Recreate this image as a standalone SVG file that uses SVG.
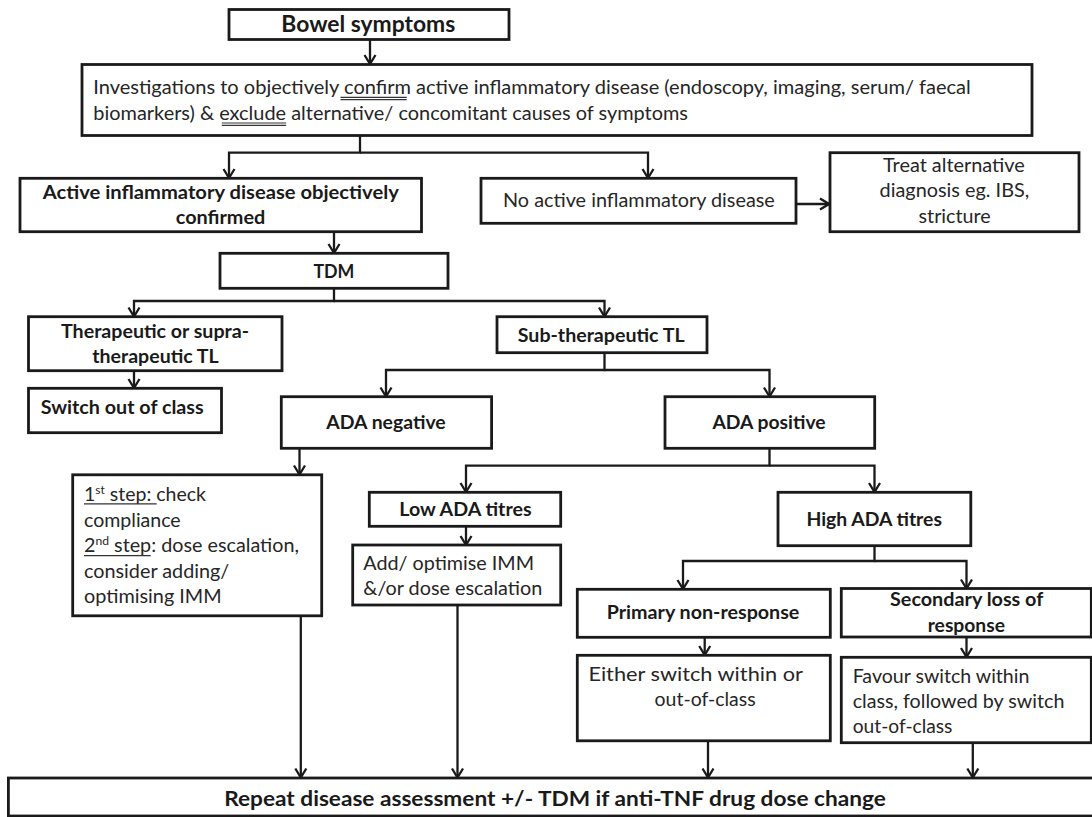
<svg xmlns="http://www.w3.org/2000/svg" width="1092" height="817" viewBox="0 0 1092 817">
<style>
.box{fill:#fff;stroke:#1a1a1a;stroke-width:2.8}
.c{fill:none;stroke:#1a1a1a;stroke-width:2.3;marker-end:url(#arr)}
.t{font-family:Lato,"Liberation Sans",Arial,sans-serif;font-size:19.5px;fill:#262626}
.b{font-weight:bold;fill:#1a1a1a}
.u{stroke:#333;stroke-width:1.2}
</style>
<defs>
<marker id="arr" viewBox="-12 -8 14 16" refX="0" refY="0" markerWidth="14" markerHeight="16" orient="auto" markerUnits="userSpaceOnUse">
<path d="M-9,-5.5 L0,0 L-9,5.5" fill="none" stroke="#1a1a1a" stroke-width="2.3"/>
</marker>
</defs>

<g id="connectors">
<path class="c" d="M370,40 V64"/>
<path class="c" d="M360,136 V152.7 H229 V178"/>
<path class="c" d="M360,152.7 H648 V178"/>
<path class="c" d="M796,204 H829"/>
<path class="c" d="M334,232 V253"/>
<path class="c" d="M334,289 V301 H134 V316.5"/>
<path class="c" d="M334,301 H604.5 V316.5"/>
<path class="c" d="M134,371 V388"/>
<path class="c" d="M604.5,353 V370 H386 V396.5"/>
<path class="c" d="M604.5,370 H769.5 V396.5"/>
<path class="c" d="M299.5,448.5 V474.5"/>
<path class="c" d="M769.5,448.5 V465.7 H466 V492"/>
<path class="c" d="M769.5,465.7 H874.5 V492"/>
<path class="c" d="M466,526.5 V545"/>
<path class="c" d="M874.5,546 V561 H683 V589"/>
<path class="c" d="M874.5,561 H966.5 V588.5"/>
<path class="c" d="M704.7,637.5 V655"/>
<path class="c" d="M966.5,637 V657"/>
<path class="c" d="M300.8,616 V777.5"/>
<path class="c" d="M457.5,605.5 V777.5"/>
<path class="c" d="M708,741 V777.5"/>
<path class="c" d="M972.8,743 V777.5"/>
</g>

<g id="bowel">
<rect class="box" x="229" y="9.5" width="280" height="30"/>
<text class="t b" x="281.3" y="31.7" style="font-size:22px" textLength="174" lengthAdjust="spacingAndGlyphs">Bowel symptoms</text>
</g>

<g id="investigations">
<rect class="box" x="82" y="64.5" width="950" height="71"/>
<text class="t" x="93.3" y="94.3" textLength="877.5" lengthAdjust="spacingAndGlyphs">Investigations to objectively confirm active inflammatory disease (endoscopy, imaging, serum/ faecal</text>
<text class="t" x="93.3" y="120" textLength="594.7" lengthAdjust="spacingAndGlyphs">biomarkers) &amp; exclude alternative/ concomitant causes of symptoms</text>
<line class="u" x1="340.5" y1="97.3" x2="406.7" y2="97.3"/>
<line class="u" x1="340.5" y1="99.6" x2="406.7" y2="99.6"/>
<line class="u" x1="221.8" y1="123" x2="286.2" y2="123"/>
<line class="u" x1="221.8" y1="125.3" x2="286.2" y2="125.3"/>
</g>

<g id="active">
<rect class="box" x="20" y="178.3" width="401.5" height="53.4"/>
<text class="t b" x="42.8" y="199" textLength="356" lengthAdjust="spacingAndGlyphs">Active inflammatory disease objectively</text>
<text class="t b" x="175.8" y="224" textLength="89.5" lengthAdjust="spacingAndGlyphs">confirmed</text>
</g>

<g id="noactive">
<rect class="box" x="481" y="178.3" width="315" height="45"/>
<text class="t" x="503" y="207.3" textLength="271.8" lengthAdjust="spacingAndGlyphs">No active inflammatory disease</text>
</g>

<g id="treat">
<rect class="box" x="830" y="152.7" width="249" height="79"/>
<text class="t" x="883" y="171.7" textLength="141.8" lengthAdjust="spacingAndGlyphs">Treat alternative</text>
<text class="t" x="879.6" y="197.3" textLength="149.7" lengthAdjust="spacingAndGlyphs">diagnosis eg. IBS,</text>
<text class="t" x="918.6" y="222.7" textLength="72" lengthAdjust="spacingAndGlyphs">stricture</text>
</g>

<g id="tdm">
<rect class="box" x="220" y="253.3" width="228" height="35"/>
<text class="t b" x="313.4" y="278.3" textLength="41" lengthAdjust="spacingAndGlyphs">TDM</text>
</g>

<g id="therapeutic">
<rect class="box" x="28.5" y="316.7" width="253.5" height="54"/>
<text class="t b" x="61" y="338.3" textLength="188" lengthAdjust="spacingAndGlyphs">Therapeutic or supra-</text>
<text class="t b" x="92.3" y="363.3" textLength="126.4" lengthAdjust="spacingAndGlyphs">therapeutic TL</text>
</g>

<g id="switchout">
<rect class="box" x="28.5" y="388.3" width="193" height="44.4"/>
<text class="t b" x="40.7" y="414.3" textLength="163" lengthAdjust="spacingAndGlyphs">Switch out of class</text>
</g>

<g id="subtherapeutic">
<rect class="box" x="497" y="316.7" width="210" height="36"/>
<text class="t b" x="517.8" y="341.7" textLength="166.8" lengthAdjust="spacingAndGlyphs">Sub-therapeutic TL</text>
</g>

<g id="adaneg">
<rect class="box" x="281.3" y="396.7" width="210.3" height="51.6"/>
<text class="t b" x="326.3" y="429.3" textLength="119.4" lengthAdjust="spacingAndGlyphs">ADA negative</text>
</g>

<g id="adapos">
<rect class="box" x="665" y="396.7" width="209.7" height="51.6"/>
<text class="t b" x="712.4" y="429.3" textLength="113.2" lengthAdjust="spacingAndGlyphs">ADA positive</text>
</g>

<g id="steps">
<rect class="box" x="72.7" y="474.8" width="249" height="141"/>
<text class="t" x="84" y="500.7" textLength="122" lengthAdjust="spacingAndGlyphs">1<tspan dy="-7" style="font-size:12px">st</tspan><tspan dy="7"> step: check</tspan></text>
<text class="t" x="84" y="526.7" textLength="96.7" lengthAdjust="spacingAndGlyphs">compliance</text>
<text class="t" x="84" y="552.3" textLength="215" lengthAdjust="spacingAndGlyphs">2<tspan dy="-7" style="font-size:12px">nd</tspan><tspan dy="7"> step: dose escalation,</tspan></text>
<text class="t" x="84" y="577.7" textLength="145.3" lengthAdjust="spacingAndGlyphs">consider adding/</text>
<text class="t" x="84" y="603.3" textLength="137.7" lengthAdjust="spacingAndGlyphs">optimising IMM</text>
<line class="u" x1="84" y1="503.8" x2="156.7" y2="503.8"/>
<line class="u" x1="84" y1="555.6" x2="150.7" y2="555.6"/>
</g>

<g id="lowada">
<rect class="box" x="369.3" y="492.3" width="191.4" height="34"/>
<text class="t b" x="399.3" y="515.7" textLength="132.3" lengthAdjust="spacingAndGlyphs">Low ADA titres</text>
</g>

<g id="addimm">
<rect class="box" x="352.7" y="545" width="208" height="60"/>
<text class="t" x="363.3" y="570" textLength="170.7" lengthAdjust="spacingAndGlyphs">Add/ optimise IMM</text>
<text class="t" x="363.3" y="595" textLength="179" lengthAdjust="spacingAndGlyphs">&amp;/or dose escalation</text>
</g>

<g id="highada">
<rect class="box" x="778" y="492.3" width="192.8" height="53.4"/>
<text class="t b" x="806.4" y="526" textLength="135.5" lengthAdjust="spacingAndGlyphs">High ADA titres</text>
</g>

<g id="primary">
<rect class="box" x="577.3" y="589.3" width="253" height="48"/>
<text class="t b" x="606.7" y="619.3" textLength="192.7" lengthAdjust="spacingAndGlyphs">Primary non-response</text>
</g>

<g id="secondary">
<rect class="box" x="841.3" y="588.5" width="250" height="48.5"/>
<text class="t b" x="890" y="606" textLength="153.3" lengthAdjust="spacingAndGlyphs">Secondary loss of</text>
<text class="t b" x="927.7" y="631.7" textLength="77.3" lengthAdjust="spacingAndGlyphs">response</text>
</g>

<g id="either">
<rect class="box" x="577.3" y="655.3" width="253" height="85.5"/>
<text class="t" x="588.4" y="680.5" textLength="214.5" lengthAdjust="spacingAndGlyphs">Either switch within or</text>
<text class="t" x="654.6" y="706" textLength="101" lengthAdjust="spacingAndGlyphs">out-of-class</text>
</g>

<g id="favour">
<rect class="box" x="841.3" y="657.3" width="250" height="85.4"/>
<text class="t" x="852.7" y="682.7" textLength="176.7" lengthAdjust="spacingAndGlyphs">Favour switch within</text>
<text class="t" x="852.7" y="707.7" textLength="211.7" lengthAdjust="spacingAndGlyphs">class, followed by switch</text>
<text class="t" x="852.7" y="733.3" textLength="99.7" lengthAdjust="spacingAndGlyphs">out-of-class</text>
</g>

<g id="repeat">
<rect class="box" x="8.4" y="778" width="1090" height="38"/>
<text class="t b" x="224.2" y="806" style="font-size:21px" textLength="661.6" lengthAdjust="spacingAndGlyphs">Repeat disease assessment +/- TDM if anti-TNF drug dose change</text>
</g>
</svg>
